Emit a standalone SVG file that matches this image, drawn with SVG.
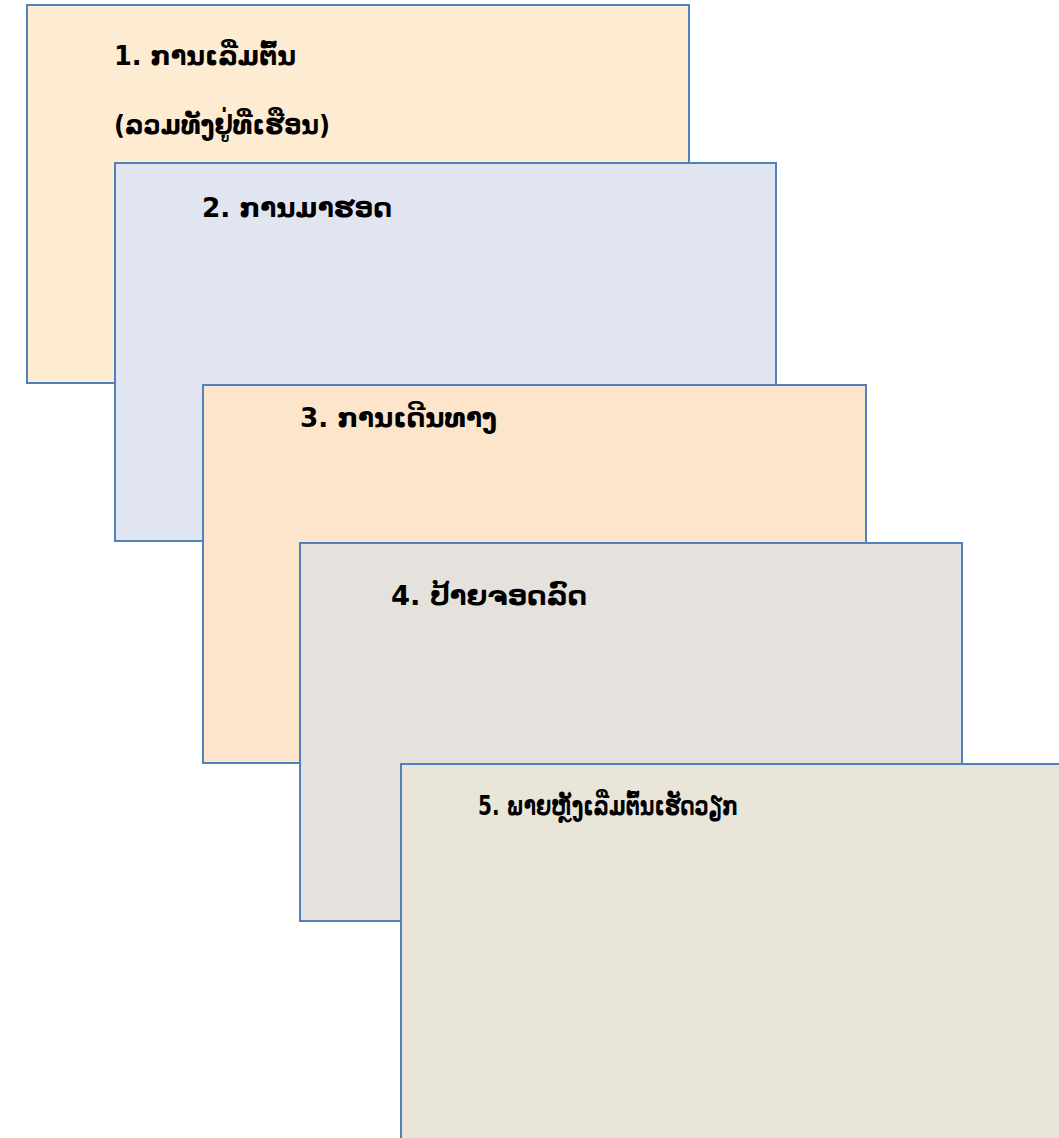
<svg xmlns="http://www.w3.org/2000/svg" width="1059" height="1138" viewBox="0 0 1059 1138">
<style>
.box{stroke:#4F81BD;stroke-width:2}
.t{font-family:"DejaVu Sans","Liberation Sans",sans-serif;font-weight:bold;font-size:26px;fill:#000}
</style>
<rect width="1059" height="1138" fill="#fff"/>
<g id="node1"><rect class="box" x="27" y="5" width="662" height="378" fill="#FDEBD2"/>
<text class="t" x="114" y="65" textLength="182" lengthAdjust="spacingAndGlyphs">1. ການເລີ່ມຕົ້ນ</text>
<text class="t" x="114" y="134" textLength="216" lengthAdjust="spacingAndGlyphs">(ລວມທັງຢູ່ທີ່ເຮືອນ)</text></g>
<g id="node2"><rect class="box" x="115" y="163" width="661" height="378" fill="#E1E5F2"/>
<text class="t" x="202" y="217" textLength="190" lengthAdjust="spacingAndGlyphs">2. ການມາຮອດ</text></g>
<g id="node3"><rect class="box" x="203" y="385" width="663" height="378" fill="#FDE5CC"/>
<text class="t" x="300" y="427" textLength="197" lengthAdjust="spacingAndGlyphs">3. ການເດີນທາງ</text></g>
<g id="node4"><rect class="box" x="300" y="543" width="662" height="378" fill="#E5E2DE"/>
<text class="t" x="391" y="605" textLength="196" lengthAdjust="spacingAndGlyphs">4. ປ້າຍຈອດລົດ</text></g>
<g id="node5"><rect class="box" x="401" y="764" width="700" height="400" fill="#EAE5D9"/>
<text class="t" x="478" y="815" textLength="260" lengthAdjust="spacingAndGlyphs">5. ພາຍຫຼັງເລີ່ມຕົ້ນເຮັດວຽກ</text></g>
<g id="connectors"/>
</svg>
